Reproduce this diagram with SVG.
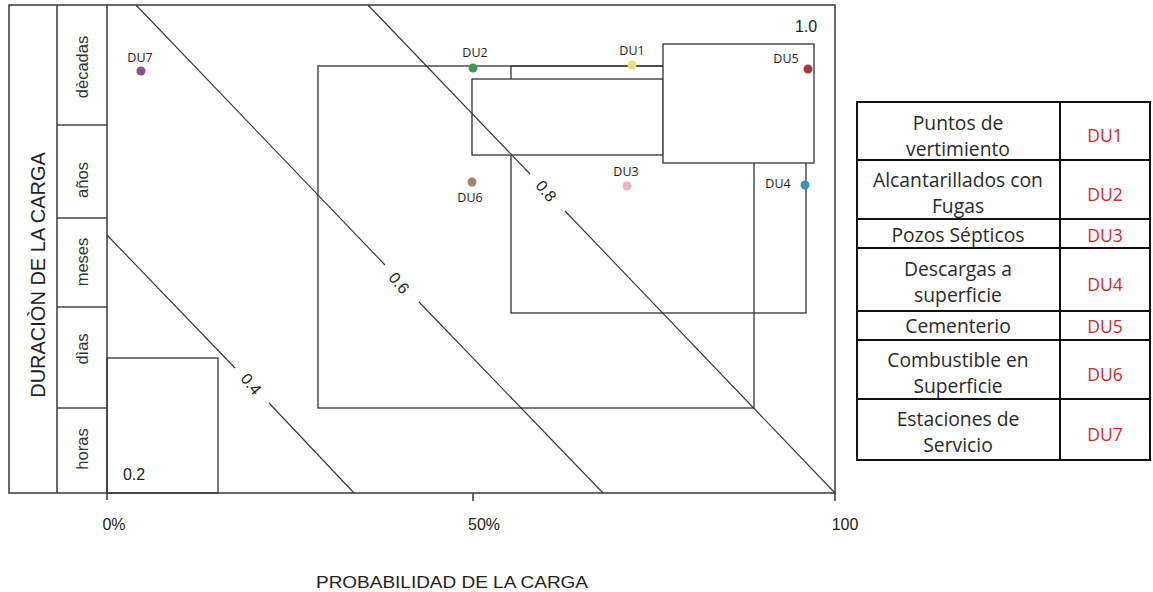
<svg xmlns="http://www.w3.org/2000/svg" width="1153" height="592" viewBox="0 0 1153 592">
<style>
.fr{fill:none;stroke:#444;stroke-width:1.6}
.ln{fill:none;stroke:#333;stroke-width:1.1}
.rc{fill:none;stroke:#333;stroke-width:1.3}
.ax{font-family:"Liberation Sans",Arial,sans-serif;fill:#222}
.rl{font-family:"Liberation Sans",Arial,sans-serif;font-size:16.5px;fill:#333;text-anchor:middle}
.du{font-family:"Open Sans","Liberation Sans",sans-serif;font-size:12.5px;fill:#222;text-anchor:middle}
.tb{fill:none;stroke:#111;stroke-width:2}
.tt{font-family:"Open Sans","Liberation Sans",sans-serif;font-size:19.3px;fill:#2a2a2a;text-anchor:middle}
.tr{font-family:"Open Sans","Liberation Sans",sans-serif;font-size:17.5px;fill:#d42a2a;text-anchor:middle}
.cl{font-family:"Liberation Sans",Arial,sans-serif;font-size:16px;fill:#222;text-anchor:middle;dominant-baseline:central}
</style>
<rect width="1153" height="592" fill="#fff"/>
<g id="frame">
<rect class="fr" x="9" y="5" width="826" height="488"/>
<line class="fr" x1="57" y1="5" x2="57" y2="493"/>
<line class="fr" x1="107" y1="5" x2="107" y2="500"/>
<line class="fr" x1="57" y1="125" x2="107" y2="125"/>
<line class="fr" x1="57" y1="218" x2="107" y2="218"/>
<line class="fr" x1="57" y1="307" x2="107" y2="307"/>
<line class="fr" x1="57" y1="408" x2="107" y2="408"/>
<line class="fr" x1="473" y1="493" x2="473" y2="501"/>
<line class="fr" x1="835" y1="493" x2="835" y2="501"/>
</g>
<g id="axis-labels" class="ax">
<text transform="translate(45,275) rotate(-90)" font-size="20" text-anchor="middle">DURACIÒN DE LA CARGA</text>
<text class="rl" transform="translate(88,67) rotate(-90)">dècadas</text>
<text class="rl" transform="translate(88,180) rotate(-90)">años</text>
<text class="rl" transform="translate(88,262) rotate(-90)">meses</text>
<text class="rl" transform="translate(88,349) rotate(-90)">dìas</text>
<text class="rl" transform="translate(88,449) rotate(-90)">horas</text>
<text x="114" y="530" font-size="16" text-anchor="middle">0%</text>
<text x="484" y="530" font-size="16" text-anchor="middle">50%</text>
<text x="845" y="530" font-size="16" text-anchor="middle">100</text>
<text x="452" y="588" font-size="17" text-anchor="middle" textLength="272" lengthAdjust="spacingAndGlyphs">PROBABILIDAD DE LA CARGA</text>
<text x="134" y="480" font-size="16" text-anchor="middle">0.2</text>
<text x="806" y="32" font-size="16" text-anchor="middle">1.0</text>
</g>
<g id="regions">
<rect class="rc" x="107" y="358" width="111" height="135"/>
<rect class="rc" x="318" y="66" width="436" height="342"/>
<rect class="rc" x="511" y="66" width="295" height="247"/>
<rect class="rc" x="472" y="79" width="191" height="76" style="fill:#fff"/>
<rect class="rc" x="663" y="44" width="151" height="119" style="fill:#fff"/>
</g>
<g id="contours">
<line class="ln" x1="107" y1="235" x2="235" y2="368"/>
<line class="ln" x1="269" y1="403" x2="354" y2="493"/>
<line class="ln" x1="136" y1="5" x2="385" y2="265"/>
<line class="ln" x1="419" y1="302" x2="603" y2="493"/>
<line class="ln" x1="368" y1="5" x2="530" y2="174"/>
<line class="ln" x1="565" y1="211" x2="835" y2="493"/>
<text class="cl" transform="translate(251,384) rotate(50)">0.4</text>
<text class="cl" transform="translate(399,283) rotate(50)">0.6</text>
<text class="cl" transform="translate(546,191) rotate(50)">0.8</text>
</g>
<g id="du7"><circle cx="141" cy="71" r="4.5" fill="#8e4f90"/><text class="du" x="140" y="62">DU7</text></g>
<g id="du2"><circle cx="473" cy="68" r="4.5" fill="#3a9a50"/><text class="du" x="475" y="57">DU2</text></g>
<g id="du1"><circle cx="632" cy="65" r="4.5" fill="#ece36a"/><text class="du" x="632" y="55">DU1</text></g>
<g id="du5"><circle cx="808" cy="69" r="4.5" fill="#a23838"/><text class="du" x="786" y="63">DU5</text></g>
<g id="du4"><circle cx="805" cy="185" r="4.5" fill="#3a93bb"/><text class="du" x="778" y="188">DU4</text></g>
<g id="du3"><circle cx="627" cy="186" r="4.5" fill="#eeb0c8"/><text class="du" x="626" y="176">DU3</text></g>
<g id="du6"><circle cx="472" cy="182" r="4.5" fill="#a3836a"/><text class="du" x="470" y="202">DU6</text></g>
<g id="legend">
<rect class="tb" x="857" y="102" width="293" height="358"/>
<line class="tb" x1="1060" y1="102" x2="1060" y2="460"/>
<line class="tb" x1="857" y1="160" x2="1150" y2="160"/>
<line class="tb" x1="857" y1="219" x2="1150" y2="219"/>
<line class="tb" x1="857" y1="248" x2="1150" y2="248"/>
<line class="tb" x1="857" y1="311" x2="1150" y2="311"/>
<line class="tb" x1="857" y1="340" x2="1150" y2="340"/>
<line class="tb" x1="857" y1="399" x2="1150" y2="399"/>
<g id="row1"><text class="tt" x="958" y="130">Puntos de</text><text class="tt" x="958" y="156">vertimiento</text><text class="tr" x="1105" y="142">DU1</text></g>
<g id="row2"><text class="tt" x="958" y="187">Alcantarillados con</text><text class="tt" x="958" y="213">Fugas</text><text class="tr" x="1105" y="201">DU2</text></g>
<g id="row3"><text class="tt" x="958" y="242">Pozos Sépticos</text><text class="tr" x="1105" y="242">DU3</text></g>
<g id="row4"><text class="tt" x="958" y="276">Descargas a</text><text class="tt" x="958" y="302">superficie</text><text class="tr" x="1105" y="291">DU4</text></g>
<g id="row5"><text class="tt" x="958" y="333">Cementerio</text><text class="tr" x="1105" y="333">DU5</text></g>
<g id="row6"><text class="tt" x="958" y="367">Combustible en</text><text class="tt" x="958" y="393">Superficie</text><text class="tr" x="1105" y="381">DU6</text></g>
<g id="row7"><text class="tt" x="958" y="426">Estaciones de</text><text class="tt" x="958" y="452">Servicio</text><text class="tr" x="1105" y="441">DU7</text></g>
</g>
</svg>
